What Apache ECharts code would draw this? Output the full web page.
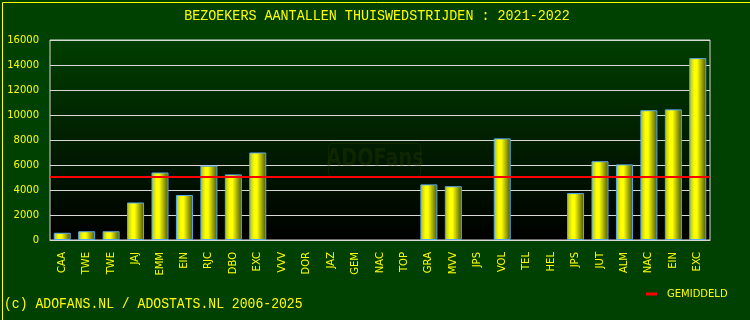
<!DOCTYPE html>
<html><head><meta charset="utf-8">
<script src="https://cdn.jsdelivr.net/npm/echarts@6/dist/echarts.min.js"></script>
<style>html,body{margin:0;padding:0;background:#004000}#c{width:750px;height:320px}</style>
</head><body><div id="c"></div>
<script>
const categories = ['CAA','TWE','TWE','JAJ','EMM','EIN','RJC','DBO','EXC','VVV','DOR','JAZ','GEM','NAC','TOP','GRA','MVV','JPS','VOL','TEL','HEL','JPS','JUT','ALM','NAC','EIN','EXC'];
const visitors = [580,700,700,3000,5400,3600,5950,5250,7000,0,0,0,0,0,0,4450,4300,0,8130,0,0,3750,6300,6050,10380,10450,14550];
const average = [5070];
const yTicks = [0,2000,4000,6000,8000,10000,12000,14000,16000];
const titleText = 'BEZOEKERS AANTALLEN THUISWEDSTRIJDEN : 2021-2022';
const footerText = '(c) ADOFANS.NL / ADOSTATS.NL 2006-2025';
const legendName = 'GEMIDDELD';

const chart = echarts.init(document.getElementById('c'), null, {renderer:'canvas'});
const barGrad = new echarts.graphic.LinearGradient(0,0,1,0,[
  {offset:0,color:'#a4bc2c'},{offset:0.3,color:'#ffff00'},{offset:0.45,color:'#ffff00'},{offset:1,color:'#445400'}]);
chart.setOption({
  backgroundColor:'#004000',
  animation:false,
  grid:{left:50,right:40,top:40,bottom:80,show:true,borderColor:'#d8d8d8',borderWidth:1,
    backgroundColor:new echarts.graphic.LinearGradient(0,0,0,1,[{offset:0,color:'#003e00'},{offset:1,color:'#000000'}])},
  legend:{left:646,top:289,itemWidth:11,itemHeight:3,icon:'rect',padding:0,
    textStyle:{color:'#ffff00',fontFamily:'DejaVu Sans',fontSize:10,padding:[0,0,0,5]},
    data:[{name:legendName,itemStyle:{color:'#ff0000'}}]},
  xAxis:{type:'category',data:categories,
    axisLine:{show:true,lineStyle:{color:'#d8d8d8',width:1}},axisTick:{show:false},
    axisLabel:{rotate:90,color:'#ffff00',fontFamily:'DejaVu Sans',fontSize:10,margin:12,interval:0}},
  yAxis:{type:'value',min:yTicks[0],max:yTicks[yTicks.length-1],interval:yTicks[1]-yTicks[0],
    axisLine:{show:false},axisTick:{show:false},
    axisLabel:{color:'#ffff00',fontFamily:'DejaVu Sans',fontSize:10,margin:11,formatter:v=>String(v)},
    splitLine:{lineStyle:{color:'#d8d8d8',width:1}}},
  series:[
    {type:'bar',data:visitors.map(v=>v===0?'-':v),barWidth:17,
      itemStyle:{color:barGrad,borderColor:'#5aaaf0',borderWidth:1},z:3},
    {type:'line',name:legendName,data:[],itemStyle:{color:'#ff0000'},
      markLine:{silent:true,symbol:['none','none'],label:{show:false},
        lineStyle:{color:'#ff0000',width:2,type:'solid'},data:[{yAxis:average[0]}]},z:5}
  ],
  graphic:[
    {type:'rect',left:0,top:0,shape:{x:0.5,y:0.5,width:749,height:319},style:{fill:'none',stroke:'#ffff00',lineWidth:1},z:100},
    {type:'text',x:377,y:16,scaleY:1.15,style:{text:titleText,fill:'#ffff00',font:'13.4px "Liberation Mono"',textAlign:'center',textVerticalAlign:'middle'},z:100},
    {type:'text',x:4,y:304.5,scaleY:1.15,style:{text:footerText,fill:'#ffff00',font:'13.1px "Liberation Mono"',textAlign:'left',textVerticalAlign:'middle'},z:100},
    {type:'rect',shape:{x:328.5,y:143.5,width:92,height:33,r:3},style:{fill:'rgba(0,0,0,0)',stroke:'rgba(60,70,0,0.25)',lineWidth:1},z:1},
    {type:'text',x:375,y:160,scaleX:0.8,style:{text:'ADOFans',fill:'rgba(60,70,0,0.25)',font:'bold 24px "DejaVu Sans"',textAlign:'center',textVerticalAlign:'middle'},z:1}
  ]
});
</script></body></html>
